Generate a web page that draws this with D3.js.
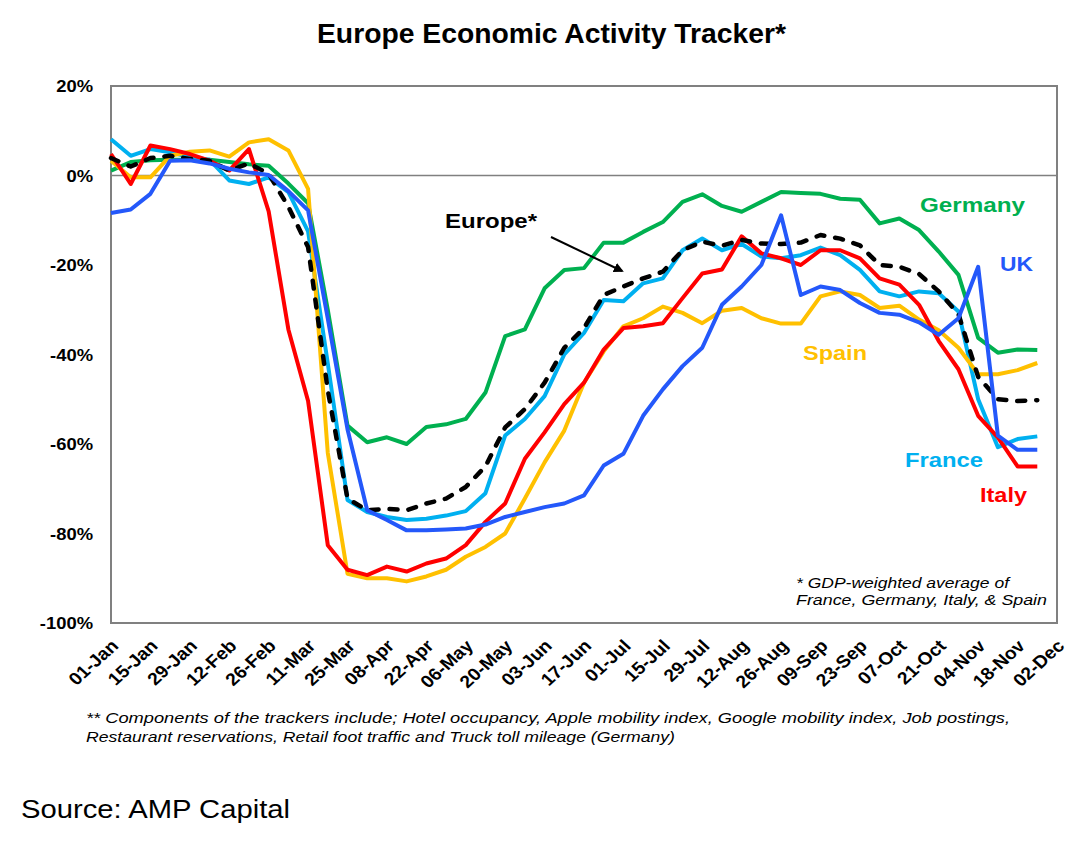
<!DOCTYPE html>
<html>
<head>
<meta charset="utf-8">
<script src="https://cdn.jsdelivr.net/npm/d3@7"></script>
<style>
  body { margin: 0; background: #fff; }
  svg text { font-family: "Liberation Sans", Arial, sans-serif; }
</style>
</head>
<body>
<div class="container"></div>
<script>
// x axis labels, every second week
const tickLabels = ["01-Jan", "15-Jan", "29-Jan", "12-Feb", "26-Feb", "11-Mar", "25-Mar", "08-Apr",
    "22-Apr", "06-May", "20-May", "03-Jun", "17-Jun", "01-Jul", "15-Jul", "29-Jul", "12-Aug",
    "26-Aug", "09-Sep", "23-Sep", "07-Oct", "21-Oct", "04-Nov", "18-Nov", "02-Dec"];
const yTicks = [20, 0, -20, -40, -60, -80, -100];

// weekly readings, % vs normal, first week = 01-Jan
const germany = [1.1, 3, 3.4, 3.5, 3.5, 3.5, 3, 2.5, 2.2, -1.8, -6.2, -30, -55.9, -59.6, -58.5, -60,
    -56.2, -55.6, -54.4, -48.5, -35.9, -34.4, -25.2, -21.1, -20.7, -15, -15, -12.6, -10.4, -5.9, -4.2,
    -6.8, -8.1, -5.9, -3.7, -3.9, -4.1, -5.2, -5.4, -10.7, -9.6, -12.2, -17, -22.2, -36.3, -39.6, -38.9, -39];
const france = [8.1, 4.4, 5.9, 5.2, 4.1, 3.5, -1.1, -1.9, -0.4, -3.7, -12.5, -42, -72.5, -75.2, -76.3, -77,
    -76.7, -76, -75, -71, -58.1, -54.4, -49.3, -40, -35.2, -27.8, -28.1, -24.1, -23, -16.7, -14.1,
    -16.7, -15.3, -18.1, -18.5, -17.8, -16.1, -17.8, -21.1, -25.9, -27, -25.9, -26.3, -30.4, -50, -60.7, -58.9, -58.3];
const spain = [3.3, -0.4, -0.4, 4.4, 5.3, 5.6, 4.2, 7.4, 8.1, 5.6, -3, -62, -89, -90, -90, -90.7,
    -89.6, -88.1, -85.2, -83, -80, -72.2, -64.1, -57, -46.3, -39.3, -33.7, -31.9, -29.3, -30.7, -33,
    -30.2, -29.6, -31.9, -33.1, -33.1, -27, -25.9, -26.7, -29.6, -29.1, -32.2, -34.6, -38.5, -44.4, -44.4, -43.5, -41.9];
const italy = [4.8, -1.9, 6.7, 5.9, 4.8, 3.3, 1.1, 5.9, -8, -34.4, -50.4, -82.6, -88.1, -89.3, -87.4, -88.5,
    -86.7, -85.6, -82.6, -77.4, -73.3, -63.3, -57.4, -51.1, -46.3, -38.9, -34.1, -33.7, -33, -27.4, -21.9,
    -21, -13.6, -17.4, -18.5, -20, -16.7, -16.7, -18.5, -23, -24.4, -28.9, -37, -43.3, -53.7, -58.5, -65, -65];
const europe = [3.9, 2, 3.9, 4.4, 3.7, 3.3, 1.1, 2.7, 0.4, -7, -16, -48, -72.2, -74.8, -74.5, -74.8,
    -73.3, -72.2, -69.6, -65, -56.3, -52.2, -46.3, -38.5, -34.1, -26.7, -24.8, -23, -21.5, -16.7, -14.8,
    -15.7, -14.4, -15.2, -15.3, -15, -13.3, -14.1, -15.6, -20, -20.4, -22, -25.9, -31, -45, -50, -50.4, -50.2];
const uk = [-8.4, -7.6, -4.1, 3.3, 3.4, 2.7, 1.5, 0.7, 0.1, -3.5, -7.8, -32, -56.7, -74.8, -77, -79.3,
    -79.3, -79.1, -78.9, -78, -76.3, -75.2, -74.1, -73.3, -71.5, -64.8, -62.2, -53.7, -47.8, -42.6, -38.5,
    -28.9, -24.8, -20, -8.9, -26.7, -24.8, -25.6, -28.5, -30.7, -31.1, -32.8, -35.6, -31.9, -20.4, -58.1, -61.3, -61.3];

const series = [
    { name: "Germany", values: germany, color: "#00B050" },
    { name: "France", values: france, color: "#00B0F0" },
    { name: "Spain", values: spain, color: "#FFC000" },
    { name: "Italy", values: italy, color: "#FF0000" },
    { name: "Europe*", values: europe, color: "#000000", dash: true },
    { name: "UK", values: uk, color: "#2458FA" }
];

const w = 1083;
const h = 846;
const plotLeft = 111, plotRight = 1057, plotTop = 86, plotBottom = 623;

const parse = d3.utcParse("%d-%b-%Y");
const startDate = parse("01-Jan-2020");
const dates = germany.map((d, i) => d3.utcDay.offset(startDate, 7 * i));
const tickDates = tickLabels.map(s => parse(s + "-2020"));

const xScale = d3.scaleUtc()
    .domain([tickDates[0], tickDates[tickDates.length - 1]])
    .range([plotLeft, plotRight]);
const yScale = d3.scaleLinear()
    .domain([-100, 20])
    .range([plotBottom, plotTop]);

const svg = d3.select(".container")
    .append("svg")
    .attr("width", w)
    .attr("height", h)
    .style("background", "white");

// little helper for text squeezed/stretched to the width seen in the picture
const label = (x, y, txt, size, weight, color, width, style) => {
    const t = svg.append("text")
        .attr("x", x)
        .attr("y", y)
        .text(txt)
        .style("font-size", size + "px")
        .style("font-weight", weight)
        .style("font-style", style || "normal")
        .attr("fill", color);
    if (width) t.attr("textLength", width).attr("lengthAdjust", "spacingAndGlyphs");
    return t;
};

label(317, 43, "Europe Economic Activity Tracker*", 27, "bold", "#000", 469);

// plot frame + zero line
svg.append("rect")
    .attr("x", plotLeft)
    .attr("y", plotTop)
    .attr("width", plotRight - plotLeft)
    .attr("height", plotBottom - plotTop)
    .attr("fill", "none")
    .attr("stroke", "#808080")
    .attr("stroke-width", 2);

svg.append("line")
    .attr("x1", plotLeft)
    .attr("x2", plotRight)
    .attr("y1", yScale(0))
    .attr("y2", yScale(0))
    .attr("stroke", "#808080")
    .attr("stroke-width", 1.5);

const xAxis = d3.axisBottom(xScale)
    .tickValues(tickDates)
    .tickFormat(d3.utcFormat("%d-%b"))
    .tickSize(0);

svg.append("g")
    .attr("transform", "translate(0," + plotBottom + ")")
    .call(xAxis)
    .call(g => g.select(".domain").remove())
    .selectAll("text")
    .attr("x", 0)
    .attr("y", 0)
    .attr("dy", 0)
    .attr("text-anchor", "end")
    .attr("transform", "translate(8,24) scale(1.1,1) rotate(-45)")
    .attr("fill", "#000")
    .style("font-size", "17.5px")
    .style("font-weight", "bold");

const yAxis = d3.axisLeft(yScale)
    .tickValues(yTicks)
    .tickFormat(d => d + "%")
    .tickSize(0);

svg.append("g")
    .attr("transform", "translate(" + plotLeft + ",0)")
    .call(yAxis)
    .call(g => g.select(".domain").remove())
    .selectAll("text")
    .attr("x", -18 / 1.15)
    .attr("dy", "0.35em")
    .attr("transform", "scale(1.15,1)")
    .attr("fill", "#000")
    .style("font-size", "16px")
    .style("font-weight", "bold");

const line = d3.line()
    .x((d, i) => xScale(dates[i]))
    .y(d => yScale(d));

svg.selectAll(".series")
    .data(series)
    .enter()
    .append("path")
    .attr("class", "series")
    .attr("d", d => line(d.values))
    .attr("fill", "none")
    .attr("stroke", d => d.color)
    .attr("stroke-width", d => d.dash ? 4.5 : 4)
    .attr("stroke-linejoin", "round")
    .attr("stroke-linecap", d => d.dash ? "round" : "butt")
    .attr("stroke-dasharray", d => d.dash ? "8,11" : null);

// series labels
label(920, 212, "Germany", 21, "bold", "#00B050", 105);
label(1000, 270.5, "UK", 21, "bold", "#2458FA", 33);
label(803, 359.5, "Spain", 21, "bold", "#FFC000", 64);
label(905, 466.5, "France", 21, "bold", "#00B0F0", 78);
label(980, 502, "Italy", 21, "bold", "#FF0000", 47);
label(445, 228, "Europe*", 21, "bold", "#000", 92);

// arrow to the Europe line
svg.append("defs")
    .append("marker")
    .attr("id", "arrow")
    .attr("viewBox", "0 0 10 10")
    .attr("refX", 8)
    .attr("refY", 5)
    .attr("markerWidth", 5)
    .attr("markerHeight", 5)
    .attr("orient", "auto")
    .append("path")
    .attr("d", "M0,0 L10,5 L0,10 z")
    .attr("fill", "#000");

svg.append("line")
    .attr("x1", 551)
    .attr("y1", 237)
    .attr("x2", 622)
    .attr("y2", 271)
    .attr("stroke", "#000")
    .attr("stroke-width", 2)
    .attr("marker-end", "url(#arrow)");

// notes
label(796, 588, "* GDP-weighted average of", 15, "normal", "#000", 213, "italic");
label(796, 604.5, "France, Germany, Italy, & Spain", 15, "normal", "#000", 251, "italic");

label(86, 722.5, "** Components of the trackers include; Hotel occupancy, Apple mobility index, Google mobility index, Job postings,",
    15, "normal", "#000", 924, "italic");
label(86, 742, "Restaurant reservations, Retail foot traffic and Truck toll mileage (Germany)",
    15, "normal", "#000", 589, "italic");

label(21, 818, "Source: AMP Capital", 25, "normal", "#000", 269);
</script>
</body>
</html>
